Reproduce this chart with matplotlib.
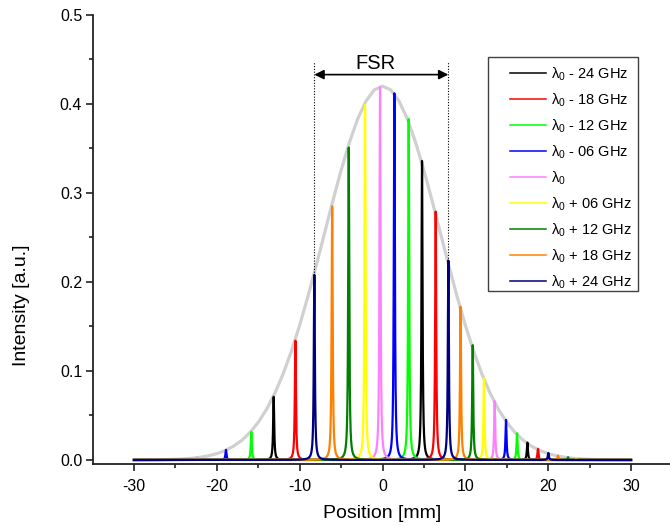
import numpy as np
import matplotlib
matplotlib.use("Agg")
import matplotlib.pyplot as plt
from matplotlib.patches import Rectangle
from matplotlib.ticker import FixedLocator, MultipleLocator

plt.rcParams['font.family'] = ['Liberation Sans', 'DejaVu Sans']
plt.rcParams['mathtext.fontset'] = 'custom'
plt.rcParams['mathtext.rm'] = 'Liberation Sans'
plt.rcParams['mathtext.it'] = 'Liberation Sans:italic'
plt.rcParams['axes.unicode_minus'] = False

# ---------------- data ----------------
series_labels = [r"$\mathrm{\lambda_0}$ - 24 GHz", r"$\mathrm{\lambda_0}$ - 18 GHz",
                 r"$\mathrm{\lambda_0}$ - 12 GHz", r"$\mathrm{\lambda_0}$ - 06 GHz",
                 r"$\mathrm{\lambda_0}$",
                 r"$\mathrm{\lambda_0}$ + 06 GHz", r"$\mathrm{\lambda_0}$ + 12 GHz",
                 r"$\mathrm{\lambda_0}$ + 18 GHz", r"$\mathrm{\lambda_0}$ + 24 GHz"]
series_colors = ['#000000', '#ff0000', '#00ff00', '#0000ff', '#ff80ff',
                 '#ffff00', '#008000', '#ff8000', '#000080']

# peak positions [mm] and heights [a.u.] for each series
peak_pos = [
    [-13.14, 4.77, 17.49],    # -24 GHz
    [-10.52, 6.42, 18.77],    # -18 GHz
    [-15.84, 3.16, 16.24],    # -12 GHz
    [-18.90, 1.43, 14.91],    # -06 GHz
    [-22.40, -0.30, 13.54],   # lambda0
    [-2.11, 12.25, 23.40],    # +06 GHz
    [-4.08, 10.89, 22.40],    # +12 GHz
    [-6.08, 9.42, 21.19],     # +18 GHz
    [-8.23, 7.95, 20.02],     # +24 GHz
]
peak_height = [
    [0.071, 0.336, 0.0195],
    [0.134, 0.279, 0.0124],
    [0.0315, 0.383, 0.030],
    [0.0113, 0.412, 0.045],
    [0.0026, 0.419, 0.066],
    [0.399, 0.092, 0.0015],
    [0.351, 0.129, 0.003],
    [0.285, 0.172, 0.0048],
    [0.208, 0.224, 0.0079],
]
peak_hwhm = 0.075  # line half width [mm]
pos_range = (-30, 30)

# envelope (grey) sampled every 1 mm from -30 to 30
env_x = list(range(-30, 31))
env_y = [0.0000, 0.0000, 0.0001, 0.0002, 0.0004, 0.0007, 0.0012, 0.0019, 0.0030, 0.0047,
         0.0071, 0.0106, 0.0154, 0.0220, 0.0308, 0.0423, 0.0568, 0.0749, 0.0966, 0.1222,
         0.1514, 0.1838, 0.2186, 0.2547, 0.2909, 0.3254, 0.3567, 0.3832, 0.4032, 0.4158,
         0.4200,
         0.4158, 0.4032, 0.3832, 0.3567, 0.3254, 0.2909, 0.2547, 0.2186, 0.1838, 0.1514,
         0.1222, 0.0966, 0.0749, 0.0568, 0.0423, 0.0308, 0.0220, 0.0154, 0.0106, 0.0071,
         0.0047, 0.0030, 0.0019, 0.0012, 0.0007, 0.0004, 0.0002, 0.0001, 0.0000, 0.0000]

fsr_label = "FSR"
fsr_left_idx, fsr_right_idx = 0, 1   # navy peaks bounding the FSR
fsr_arrow_y = 0.433
fsr_top_y = 0.447

x_major = [-30, -20, -10, 0, 10, 20, 30]
x_minor = [-25, -15, -5, 5, 15, 25]
y_minor = [0.05, 0.15, 0.25, 0.35, 0.45]

# ---------------- figure ----------------
fig = plt.figure(figsize=(6.7, 5.26), dpi=100)
ax = fig.add_axes([0.1382, 0.1188, 0.8654, 0.8527])

ax.plot(env_x, env_y, color='#d0d0d0', lw=2.3, zorder=1)

x = np.linspace(pos_range[0], pos_range[1], 60001)
g2 = peak_hwhm ** 2
for lab, col, pp, hh in zip(series_labels, series_colors, peak_pos, peak_height):
    y = np.zeros_like(x)
    for p, h in zip(pp, hh):
        y += h * g2 / ((x - p) ** 2 + g2)
    ax.plot(x, y, color=col, lw=1.6, label=lab, zorder=2)

# FSR marker
navy_pos = peak_pos[-1]
navy_h = peak_height[-1]
xl, xr = navy_pos[fsr_left_idx], navy_pos[fsr_right_idx]
ax.plot([xl, xl], [navy_h[fsr_left_idx], fsr_top_y], ls=(0, (1, 1.5)), color='black', lw=0.8, zorder=3)
ax.plot([xr, xr], [navy_h[fsr_right_idx], fsr_top_y], ls=(0, (1, 1.5)), color='black', lw=0.8, zorder=3)
ax.annotate('', xy=(xr, fsr_arrow_y), xytext=(xl, fsr_arrow_y),
            arrowprops=dict(arrowstyle='<|-|>', color='black', lw=1.2,
                            mutation_scale=14, shrinkA=0, shrinkB=0), zorder=4)
ax.text(-0.8, 0.439, fsr_label, ha='center', va='baseline', fontsize=14.5)

ax.set_xlim(-35, 35)
ax.set_ylim(-0.004, 0.5)
ax.xaxis.set_major_locator(FixedLocator(x_major))
ax.xaxis.set_minor_locator(FixedLocator(x_minor))
ax.yaxis.set_major_locator(MultipleLocator(0.1))
ax.yaxis.set_minor_locator(FixedLocator(y_minor))

for s in ['top', 'right']:
    ax.spines[s].set_visible(False)
for s in ['left', 'bottom']:
    ax.spines[s].set_linewidth(1.3)
    ax.spines[s].set_color('#222222')

ax.tick_params(which='major', direction='out', length=5, width=1.2, color='#222222', labelsize=11.5)
ax.tick_params(which='minor', direction='out', length=3, width=1.2, color='#222222')
ax.tick_params(axis='x', which='major', pad=6)
ax.tick_params(axis='y', which='major', pad=2.5)

fig.text(382.5 / 670, 1 - 514 / 526, "Position [mm]", ha='center', va='center', fontsize=14)
fig.text(22 / 670, 1 - 305 / 526, "Intensity [a.u.]", ha='center', va='center',
         rotation=90, fontsize=14)

leg = ax.legend(loc='upper left', bbox_to_anchor=(510 / 670, 1 - 65.5 / 526),
                bbox_transform=fig.transFigure, frameon=False, fontsize=10.5,
                borderpad=0, borderaxespad=0, handlelength=2.5, handletextpad=0.28,
                labelspacing=0.59)
for ln in leg.get_lines():
    ln.set_linewidth(1.1)

fig.patches.append(Rectangle((488 / 670, 1 - 290.7 / 526), (637.7 - 488) / 670,
                             (290.7 - 57.3) / 526, transform=fig.transFigure,
                             fill=False, edgecolor='#404040', lw=1.0))

fig.savefig("out.png", dpi=100)
